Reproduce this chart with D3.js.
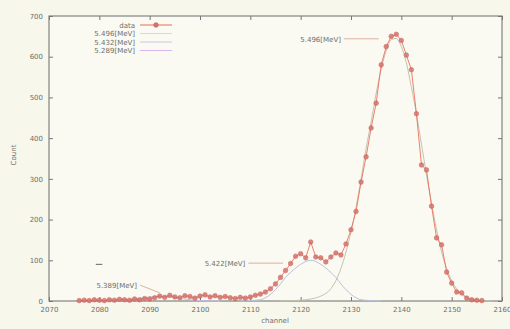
<!DOCTYPE HTML>
<html>
  <head>
    <meta charset='utf-8'>
    <title>alpha spectrum</title>
    <script src='https://d3js.org/d3.v7.min.js'></script>
  </head>
  <style>
    body {margin:0; background:#f7f7ec;}
    text {font-family:'DejaVu Sans',sans-serif; fill:#6e6e6a;}
    .tick text {font-size:7px;}
  </style>
  <body>
<svg id='svg1' width='510' height='329'></svg>
<script>
// channel / count
var channels=[2076,2077,2078,2079,2080,2081,2082,2083,2084,2085,2086,2087,2088,2089,2090,
  2091,2092,2093,2094,2095,2096,2097,2098,2099,2100,2101,2102,2103,2104,2105,2106,2107,
  2108,2109,2110,2111,2112,2113,2114,2115,2116,2117,2118,2119,2120,2121,2122,2123,2124,
  2125,2126,2127,2128,2129,2130,2131,2132,2133,2134,2135,2136,2137,2138,2139,2140,2141,
  2142,2143,2144,2145,2146,2147,2148,2149,2150,2151,2152,2153,2154,2155,2156];
var counts=[1,2,1,3,2,1,3,2,4,3,2,5,3,6,5,
  8,12,9,14,10,8,13,11,7,12,15,10,13,9,11,8,6,
  9,7,10,14,17,22,30,42,58,75,92,110,116,106,145,108,106,
  96,108,118,113,140,175,220,292,354,425,486,580,625,650,655,640,604,
  568,460,334,322,233,155,138,71,44,22,20,7,3,2,1];
// fitted peaks
var fit5496=[[2116,0],[2118,1],[2120,2],[2122,5],[2124,12],[2126,30],[2127,50],[2128,80],
  [2129,120],[2130,170],[2131,230],[2132,300],[2133,375],[2134,440],[2135,510],[2136,570],
  [2137,615],[2138,642],[2139,645],[2140,625],[2141,585],[2142,525],[2143,460],[2144,385],
  [2145,310],[2146,240],[2147,175],[2148,120],[2149,80],[2150,50],[2151,30],[2152,16],
  [2154,4],[2156,1],[2158,0]];
var fit5422=[[2108,0],[2110,1],[2112,3],[2113,8],[2114,16],[2115,28],[2116,42],[2117,58],
  [2118,70],[2120,90],[2122,100],[2124,90],[2126,70],[2127,58],[2128,42],[2129,28],
  [2130,16],[2131,8],[2132,3],[2134,1],[2136,0]];
var fit5389=[[2080,0],[2084,1],[2086,3],[2089,8],[2092,12],[2095,8],[2098,3],[2100,1],[2104,0]];
var xTicks=[2070,2080,2090,2100,2110,2120,2130,2140,2150,2160];
var yTicks=[0,100,200,300,400,500,600,700];
var legendNames=['data','5.496[MeV]','5.432[MeV]','5.289[MeV]'];
var labels=[{t:'5.496[MeV]',from:[2128,644],to:[2135.5,644]},
            {t:'5.422[MeV]',from:[2109,93],to:[2116.5,93]},
            {t:'5.389[MeV]',from:[2087.5,39],to:[2092,20]}];

var svg=d3.select('#svg1'),
    m={top:16,right:8,bottom:28,left:49},
    W=510,H=329;
var x=d3.scaleLinear().domain([2070,2160]).range([m.left,W-m.right]);
var y=d3.scaleLinear().domain([0,700]).range([H-m.bottom,m.top]);

svg.append('rect').attr('x',m.left).attr('y',m.top)
   .attr('width',x(2160)-x(2070)).attr('height',y(0)-y(700))
   .attr('fill','#fafaf2').attr('stroke','#777').attr('stroke-width',1.1);

var ax=function(g){g.select('.domain').remove();
  g.selectAll('.tick line').attr('stroke','#777');};
svg.append('g').attr('transform','translate(0,'+y(0)+')')
   .call(d3.axisBottom(x).tickValues(xTicks).tickSize(-4).tickPadding(6).tickFormat(d3.format('d'))).call(ax);
svg.append('g').attr('transform','translate(0,'+y(700)+')')
   .call(d3.axisTop(x).tickValues(xTicks).tickSize(-4).tickFormat('')).call(ax);
svg.append('g').attr('transform','translate('+x(2070)+',0)')
   .call(d3.axisLeft(y).tickValues(yTicks).tickSize(-4).tickPadding(6)).call(ax);
svg.append('g').attr('transform','translate('+x(2160)+',0)')
   .call(d3.axisRight(y).tickValues(yTicks).tickSize(-4).tickFormat('')).call(ax);

svg.append('text').attr('x',275).attr('y',323).attr('text-anchor','middle')
   .attr('font-size',7).text('channel');
svg.append('text').attr('transform','translate(16,155) rotate(-90)')
   .attr('text-anchor','middle').attr('font-size',7).text('Count');

var line=d3.line().x(function(d){return x(d[0]);}).y(function(d){return y(d[1]);})
           .curve(d3.curveMonotoneX);
var fits=[[fit5496,'#c4c2b0'],[fit5422,'#b8c2da'],[fit5389,'#cbbbe6']];
fits.forEach(function(f){
  svg.append('path').datum(f[0]).attr('d',line).attr('fill','none')
     .attr('stroke',f[1]).attr('stroke-width',1);});

var data=channels.map(function(c,i){return [c,counts[i]];});
svg.append('path').datum(data).attr('d',d3.line().x(function(d){return x(d[0]);})
   .y(function(d){return y(d[1]);})).attr('fill','none')
   .attr('stroke','#ec6a55').attr('stroke-width',1).attr('opacity',.85);
svg.selectAll('.pt').data(data).enter().append('circle').attr('class','pt')
   .attr('cx',function(d){return x(d[0]);}).attr('cy',function(d){return y(d[1]);})
   .attr('r',2.3).attr('fill','#d9736c').attr('stroke','#c05a55').attr('stroke-width',.6)
   .attr('opacity',.85);

labels.forEach(function(l){
  svg.append('line').attr('x1',x(l.from[0])+3).attr('y1',y(l.from[1]))
     .attr('x2',x(l.to[0])).attr('y2',y(l.to[1]))
     .attr('stroke','#d9a89a').attr('stroke-width',.9);
  svg.append('text').attr('x',x(l.from[0])).attr('y',y(l.from[1])+3)
     .attr('text-anchor','end').attr('font-size',7).attr('fill','#555').text(l.t);});
svg.append('line').attr('x1',x(2079.3)).attr('x2',x(2080.6)).attr('y1',y(90)).attr('y2',y(90))
   .attr('stroke','#666').attr('stroke-width',1);

var lc=['#e4605a','#5cb84c','#6a58b8','#dd66dd'],
    ls=['#ec6a55','#efd9a0','#c8c8dc','#d8b8ee'];
legendNames.forEach(function(n,i){
  var yy=25+i*8.5;
  svg.append('text').attr('x',135).attr('y',yy+2.5).attr('text-anchor','end')
     .attr('font-size',7).attr('fill',lc[i]).text(n);
  svg.append('line').attr('x1',140).attr('x2',172).attr('y1',yy).attr('y2',yy)
     .attr('stroke',ls[i]).attr('stroke-width',1);
  if(i==0) svg.append('circle').attr('cx',156).attr('cy',yy).attr('r',2.3)
     .attr('fill','#d9736c').attr('stroke','#c05a55').attr('stroke-width',.6);});
</script>
  </body>
</html>
